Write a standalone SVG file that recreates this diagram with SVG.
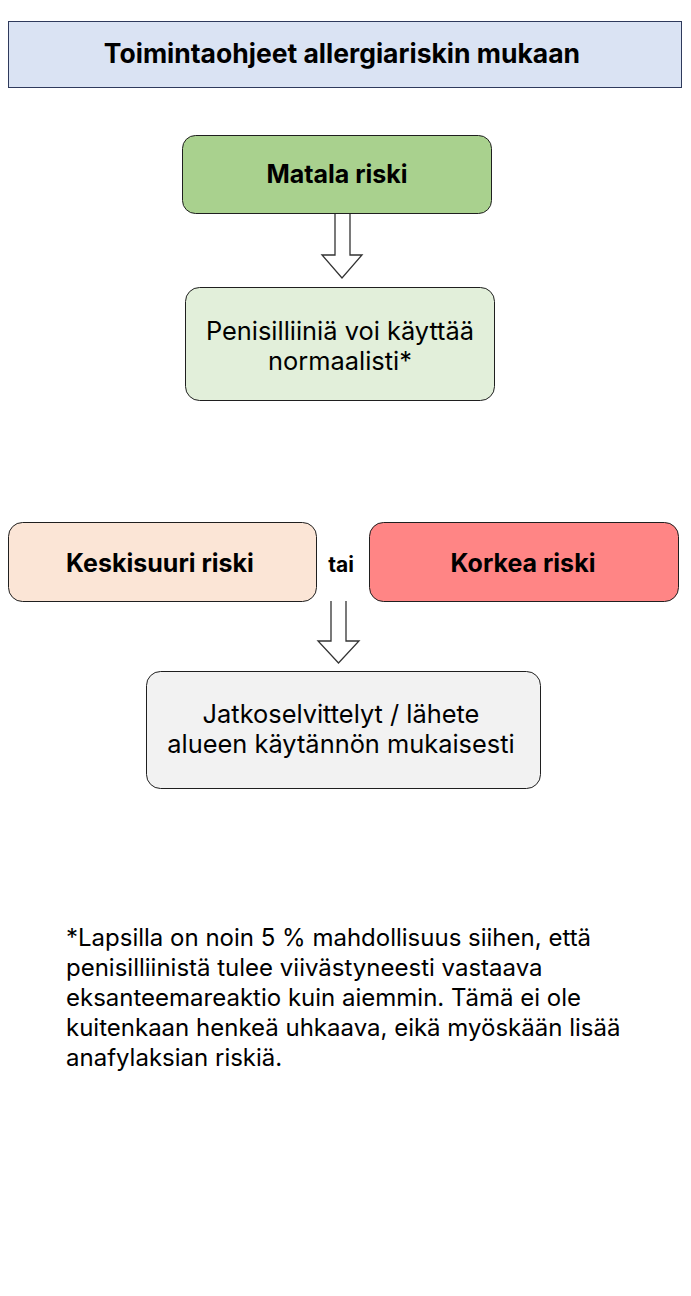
<svg xmlns="http://www.w3.org/2000/svg" width="691" height="1296" viewBox="0 0 691 1296">
<style>
.box{stroke:#1f1f1f;stroke-width:1}
.t{font-family:Inter,"Liberation Sans",sans-serif;fill:#000;text-anchor:middle}
.b{font-weight:bold;font-size:25px}
.r{font-size:25.4px}
.arrow{fill:#fff;stroke:#333;stroke-width:1.3}
</style>
<rect width="691" height="1296" fill="#fff"/>
<g id="title">
<rect x="8.5" y="21.5" width="673" height="66" fill="#dae3f3" stroke="#2f3a5c" stroke-width="1"/>
<text class="t" x="342" y="63" font-weight="bold" font-size="26.5">Toimintaohjeet allergiariskin mukaan</text>
</g>
<g id="matala">
<rect class="box" x="182.5" y="135.5" width="309" height="78" rx="13" fill="#a9d18e"/>
<text class="t b" x="337" y="183">Matala riski</text>
</g>
<g id="penisilliini">
<rect class="box" x="185.5" y="287.5" width="309" height="113" rx="14" fill="#e2efda"/>
<text class="t r" x="340" y="340">Penisilliiniä voi käyttää</text>
<text class="t r" x="340" y="370">normaalisti*</text>
</g>
<g id="keskisuuri">
<rect class="box" x="8.5" y="522.5" width="308" height="79" rx="14" fill="#fbe5d6"/>
<text class="t b" x="160" y="572">Keskisuuri riski</text>
</g>
<g id="tai">
<text class="t" x="341" y="572" font-weight="bold" font-size="21">tai</text>
</g>
<g id="korkea">
<rect class="box" x="369.5" y="522.5" width="309" height="79" rx="14" fill="#ff8585"/>
<text class="t b" x="523" y="572">Korkea riski</text>
</g>
<g id="jatko">
<rect class="box" x="146.5" y="671.5" width="394" height="117" rx="14" fill="#f2f2f2"/>
<text class="t r" x="341" y="723">Jatkoselvittelyt / lähete</text>
<text class="t r" x="341" y="753">alueen käytännön mukaisesti</text>
</g>
<g id="connectors">
<path class="arrow" d="M335,214 L335,255 L322,255 L342,278 L362,255 L350,255 L350,214"/>
<path class="arrow" d="M331,601 L331,641 L318,641 L338.5,663 L359,641 L346,641 L346,601"/>
</g>
<g id="footnote" font-family="Inter,'Liberation Sans',sans-serif" font-size="24" fill="#000">
<text x="66" y="946">*Lapsilla on noin 5 % mahdollisuus siihen, että</text>
<text x="66" y="976">penisilliinistä tulee viivästyneesti vastaava</text>
<text x="66" y="1006">eksanteemareaktio kuin aiemmin. Tämä ei ole</text>
<text x="66" y="1036">kuitenkaan henkeä uhkaava, eikä myöskään lisää</text>
<text x="66" y="1066">anafylaksian riskiä.</text>
</g>
</svg>
